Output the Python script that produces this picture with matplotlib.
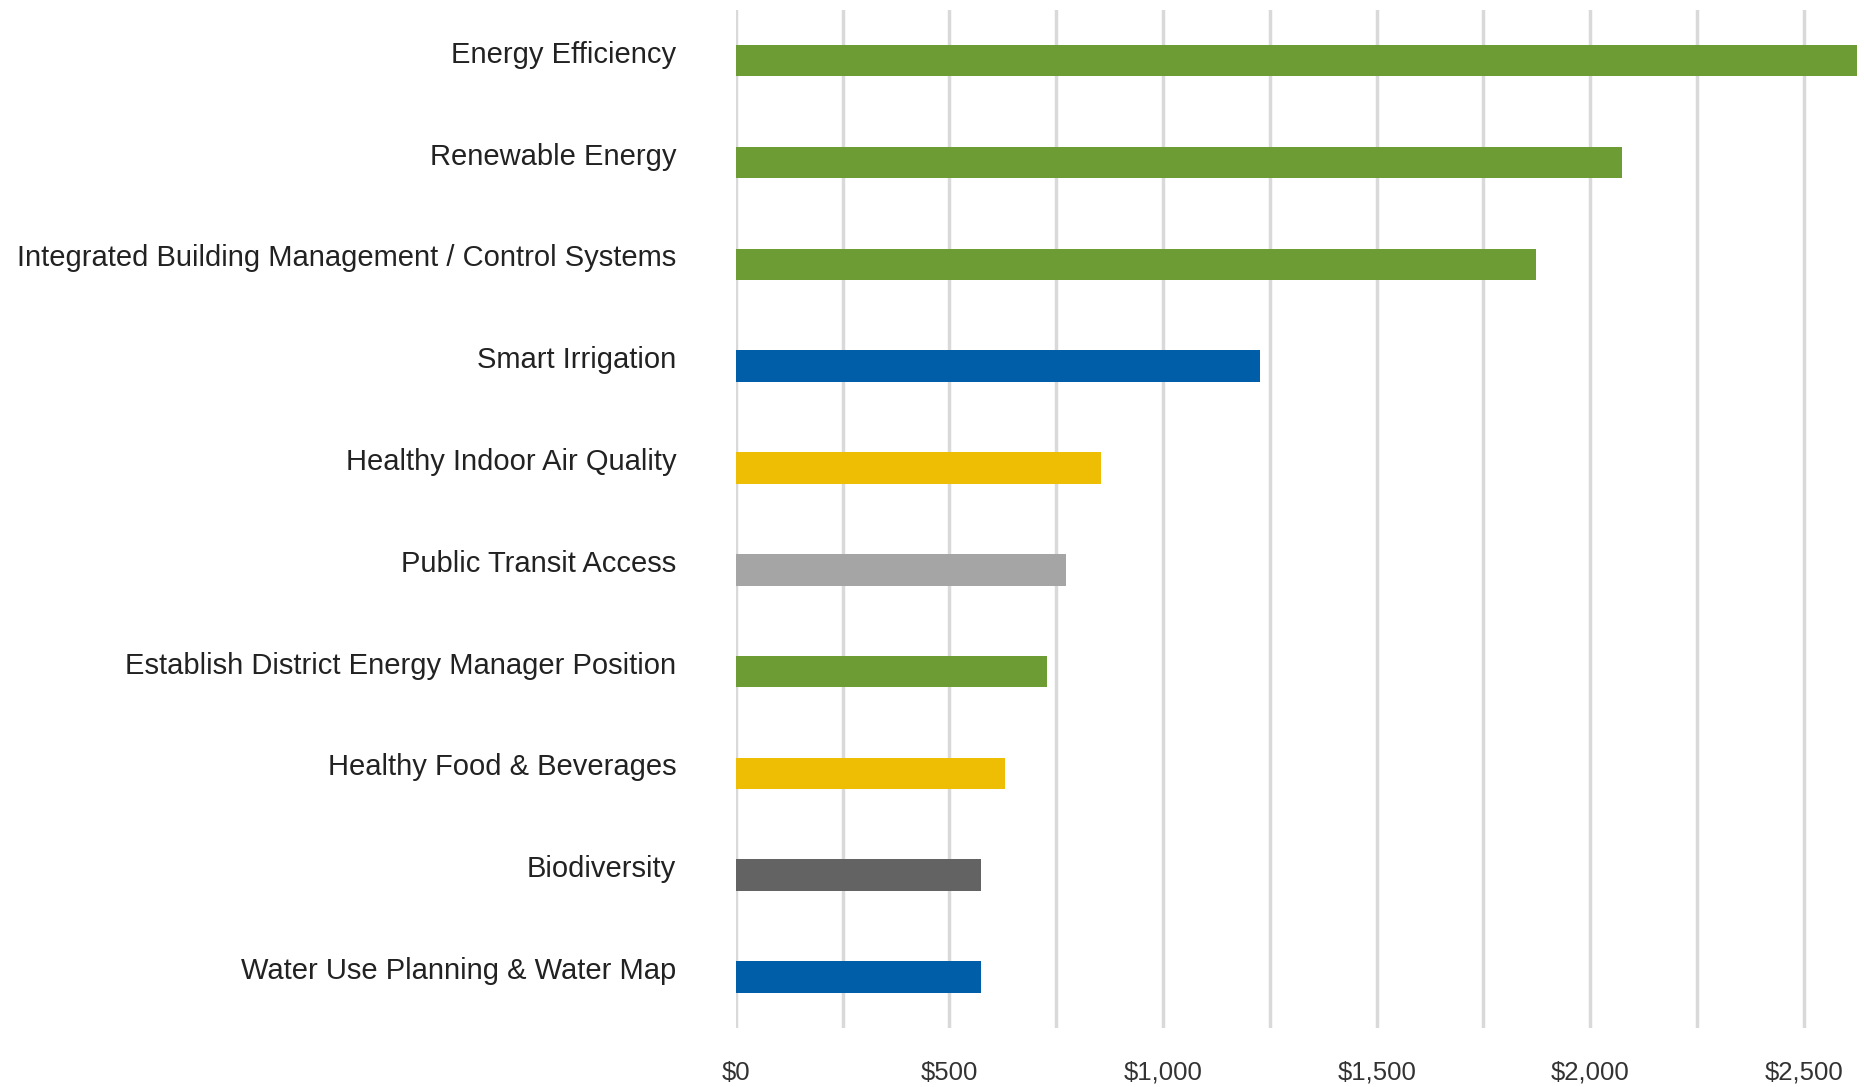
import matplotlib
matplotlib.use("Agg")
import matplotlib.pyplot as plt
import matplotlib.transforms as mtransforms
from matplotlib.ticker import FuncFormatter

plt.rcParams['font.family'] = ['Liberation Sans', 'DejaVu Sans']

# values (top to bottom)
categories = [
    "Energy Efficiency",
    "Renewable Energy",
    "Integrated Building Management / Control Systems",
    "Smart Irrigation",
    "Healthy Indoor Air Quality",
    "Public Transit Access",
    "Establish District Energy Manager Position",
    "Healthy Food & Beverages",
    "Biodiversity",
    "Water Use Planning & Water Map",
]
values = [2625, 2074, 1873, 1227, 855, 773, 729, 629, 573, 573]
groups = ["energy", "energy", "energy", "water", "health", "transit",
          "energy", "health", "site", "water"]
tick_values = [0, 500, 1000, 1500, 2000, 2500]
minor_values = [250, 750, 1250, 1750, 2250]

palette = {
    "energy": "#6E9C34",
    "water": "#005EA8",
    "health": "#EDBE04",
    "transit": "#A5A5A5",
    "site": "#636363",
}
colors = [palette[g] for g in groups]

fig = plt.figure(figsize=(18.64, 10.87), dpi=100)
ax = fig.add_axes([0.3948, 0.0543, 0.6052, 0.9367])

ypos = list(range(len(categories)))
ax.barh(ypos, values, height=0.31, color=colors, zorder=3)

ax.set_yticks(ypos)
ax.set_yticklabels(categories, fontsize=21, color="#222222")

ax.set_xticks(tick_values)
ax.set_xticks(minor_values, minor=True)
ax.xaxis.set_major_formatter(FuncFormatter(lambda v, p: "${:,.0f}".format(v)))
ax.grid(axis="x", which="both", color="#D9D9D9", linewidth=2.5, zorder=0)

# limits after ticks so set_xticks doesn't widen them
ax.set_ylim(len(categories) - 0.5, -0.5)
ax.set_xlim(0, 2641)

for lab in ax.get_xticklabels():
    lab.set_fontsize(18.5)
    lab.set_color("#333333")

ax.tick_params(axis="y", length=0, pad=43)
ax.tick_params(axis="x", which="both", length=0, pad=23.5)
for s in ax.spines.values():
    s.set_visible(False)

# category labels sit a bit above the bar centres in the original
shift = mtransforms.ScaledTranslation(0, 0.09, fig.dpi_scale_trans)
for lab in ax.get_yticklabels():
    lab.set_transform(lab.get_transform() + shift)

fig.savefig("out.png", dpi=100, facecolor="white")
